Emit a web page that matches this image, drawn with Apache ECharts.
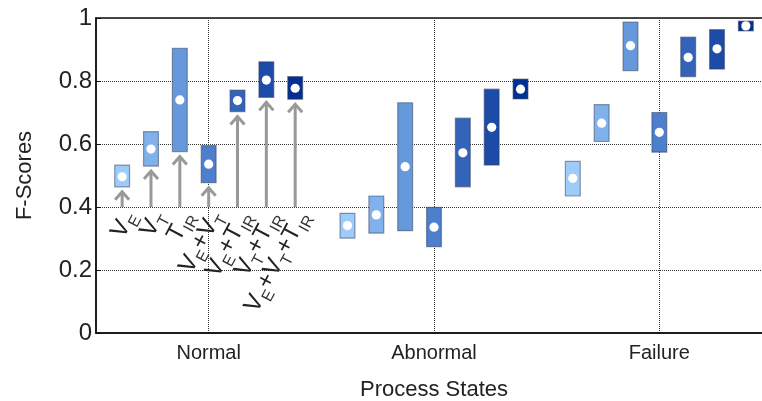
<!DOCTYPE html>
<html>
<head>
<meta charset="utf-8">
<script src="https://cdn.jsdelivr.net/npm/echarts@6/dist/echarts.min.js"></script>
<style>
  html, body { margin: 0; padding: 0; background: #fff; }
  #chart { width: 762px; height: 401px; }
</style>
</head>
<body>
<div id="chart"></div>
<script>
var categories = ['Normal', 'Abnormal', 'Failure'];
var yTicks = [0, 0.2, 0.4, 0.6, 0.8, 1];

// feature combinations, light to dark
var methodLabels = [
    '{m|V}{s|E}',
    '{m|V}{s|T}',
    '{m|T}{s|IR}',
    '{m|V}{s|E}{m|+V}{s|T}',
    '{m|V}{s|E}{m|+T}{s|IR}',
    '{m|V}{s|T}{m|+T}{s|IR}',
    '{m|V}{s|E}{m|+V}{s|T}{m|+T}{s|IR}'
];
var methodColors = ['#9dcbfa', '#80b1ec', '#6699dc', '#4d7fcc', '#3463ba', '#1c4ba8', '#032f92'];

// F-score ranges per process state (one entry per method)
var lowNormal    = [0.464, 0.530, 0.576, 0.477, 0.703, 0.748, 0.742];
var highNormal   = [0.533, 0.639, 0.904, 0.595, 0.771, 0.861, 0.814];
var meanNormal   = [0.496, 0.584, 0.740, 0.536, 0.738, 0.803, 0.777];

var lowAbnormal  = [0.301, 0.317, 0.325, 0.274, 0.464, 0.533, 0.743];
var highAbnormal = [0.380, 0.435, 0.731, 0.399, 0.682, 0.774, 0.806];
var meanAbnormal = [0.341, 0.375, 0.528, 0.336, 0.572, 0.653, 0.774];

var lowFailure   = [0.435, 0.608, 0.833, 0.574, 0.814, 0.838, 0.959];
var highFailure  = [0.545, 0.725, 0.987, 0.700, 0.939, 0.963, 0.990];
var meanFailure  = [0.491, 0.666, 0.912, 0.637, 0.875, 0.902, 0.975];

var arrowBase = 0.4;   // arrows start at this score (Normal group only)

var lows = [lowNormal, lowAbnormal, lowFailure];
var highs = [highNormal, highAbnormal, highFailure];
var means = [meanNormal, meanAbnormal, meanFailure];

var font = '"Liberation Sans", Arial, sans-serif';

function renderBox(params, api) {
    var m = params.seriesIndex;
    var cat = api.value(0);
    var bw = api.size([1, 0])[0];
    var off = (m - 3) * bw * 0.128;
    var w = bw * 0.066;
    var pHi = api.coord([cat, api.value(2)]);
    var pLo = api.coord([cat, api.value(1)]);
    var pMean = api.coord([cat, api.value(3)]);
    var x = pHi[0] + off;
    var children = [{
        type: 'rect',
        shape: { x: x - w / 2, y: pHi[1], width: w, height: pLo[1] - pHi[1] },
        style: { fill: methodColors[m], stroke: 'rgba(50,60,90,0.5)', lineWidth: 1.2 }
    }, {
        type: 'circle',
        shape: { cx: x, cy: pMean[1], r: 4.6 },
        style: { fill: '#fff' }
    }];
    if (cat === 0) {
        var pBase = api.coord([cat, arrowBase]);
        var tipY = pLo[1] + 4;
        children.push({
            type: 'line',
            shape: { x1: x, y1: pBase[1], x2: x, y2: tipY + 1 },
            style: { stroke: '#999', lineWidth: 3 }
        });
        children.push({
            type: 'polyline',
            shape: { points: [[x - 7, tipY + 9], [x, tipY + 1], [x + 7, tipY + 9]] },
            style: { stroke: '#999', lineWidth: 3, fill: null }
        });
        children.push({
            type: 'group',
            x: x + 7,
            y: pBase[1] + 5,
            rotation: 62 * Math.PI / 180,
            children: [{
                type: 'text',
                x: 0,
                y: 0,
                style: {
                    text: methodLabels[m],
                    align: 'right',
                    verticalAlign: 'middle',
                    rich: {
                        m: { fontSize: 24, fontFamily: font, fill: '#222', lineHeight: 26, verticalAlign: 'bottom' },
                        s: { fontSize: 16, fontFamily: font, fill: '#333', lineHeight: 26, verticalAlign: 'bottom', padding: [0, 0, -5, 0] }
                    }
                }
            }]
        });
    }
    return { type: 'group', children: children };
}

var series = [];
for (var m = 0; m < methodLabels.length; m++) {
    var data = [];
    for (var c = 0; c < categories.length; c++) {
        data.push([c, lows[c][m], highs[c][m], means[c][m]]);
    }
    series.push({
        type: 'custom',
        renderItem: renderBox,
        encode: { x: 0, y: [1, 2, 3] },
        clip: false,
        data: data
    });
}

var chart = echarts.init(document.getElementById('chart'));
chart.setOption({
    animation: false,
    grid: {
        left: 96, right: -10, top: 18, bottom: 68,
        outerBoundsMode: 'none',
        containLabel: false,
        show: true, borderColor: '#111', borderWidth: 1.5
    },
    xAxis: {
        type: 'category',
        data: categories,
        name: 'Process States',
        nameLocation: 'middle',
        nameGap: 46,
        nameTextStyle: { fontSize: 22, fontFamily: font, color: '#222' },
        axisLine: { lineStyle: { color: '#111', width: 1.5 } },
        axisTick: { inside: true, alignWithLabel: true, length: 5, lineStyle: { color: '#111' } },
        axisLabel: { fontSize: 20, fontFamily: font, color: '#222', margin: 10 },
        splitLine: { show: true, alignWithLabel: true, lineStyle: { type: 'dotted', color: '#333', width: 1 } }
    },
    yAxis: {
        type: 'value',
        min: yTicks[0],
        max: yTicks[yTicks.length - 1],
        interval: 0.2,
        name: 'F-Scores',
        nameLocation: 'middle',
        nameGap: 60,
        nameTextStyle: { fontSize: 22, fontFamily: font, color: '#222' },
        axisLine: { show: true, lineStyle: { color: '#111', width: 1.5 } },
        axisTick: { show: true, inside: true, length: 5, lineStyle: { color: '#111' } },
        axisLabel: { fontSize: 24, fontFamily: font, color: '#222', margin: 4 },
        splitLine: { lineStyle: { type: 'dotted', color: '#333', width: 1 } }
    },
    series: series
});
</script>
</body>
</html>
